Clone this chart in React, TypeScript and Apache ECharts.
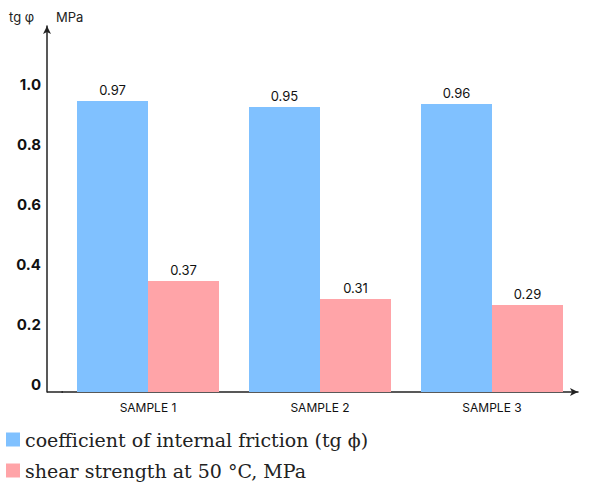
import React, { useEffect, useRef } from "react";
import * as echarts from "echarts";

const categories = ["SAMPLE 1", "SAMPLE 2", "SAMPLE 3"];
const frictionValues = [0.97, 0.95, 0.96];
const shearValues = [0.37, 0.31, 0.29];
const seriesNames = ["coefficient of internal friction (tg ϕ)", "shear strength at 50 °C, MPa"];

export default function App() {
  const ref = useRef<HTMLDivElement>(null);
  useEffect(() => {
    if (!ref.current) return;
    const chart = echarts.init(ref.current, null, { renderer: "svg" });
    const legendBase = {
      orient: "horizontal",
      left: 6,
      padding: 0,
      itemWidth: 14,
      itemHeight: 14,
      icon: "rect",
      textStyle: { fontFamily: "DejaVu Serif", fontSize: 19, color: "#222" },
    };
    chart.setOption({
      animation: false,
      grid: { left: 62, right: 15, top: 26, bottom: 92, containLabel: false },
      legend: [
        { ...legendBase, top: 430, data: [seriesNames[0]] },
        { ...legendBase, top: 461, data: [seriesNames[1]] },
      ],
      graphic: [
        { type: "line", shape: { x1: 47, y1: 392, x2: 63, y2: 392 }, style: { stroke: "#222", lineWidth: 1.5 } },
        { type: "text", x: 9, y: 10, style: { text: "tg φ", fontFamily: "Inter", fontSize: 13, fill: "#222" } },
        { type: "text", x: 56, y: 10, style: { text: "MPa", fontFamily: "Inter", fontSize: 13, fill: "#222" } },
      ],
      xAxis: {
        type: "category",
        data: categories,
        axisLine: { show: true, lineStyle: { color: "#222", width: 1.5 }, symbol: ["none", "arrow"], symbolSize: [6, 8] },
        axisTick: { show: false },
        axisLabel: { fontFamily: "Inter", fontSize: 12, color: "#111", margin: 9 },
      },
      yAxis: {
        type: "value",
        min: 0,
        max: 1.22,
        interval: 0.2,
        offset: 15,
        splitLine: { show: false },
        axisTick: { show: false },
        axisLine: { show: true, lineStyle: { color: "#222", width: 1.5 }, symbol: ["none", "arrow"], symbolSize: [6, 8] },
        axisLabel: {
          fontFamily: "Inter",
          fontWeight: "bold",
          fontSize: 15,
          color: "#111",
          margin: 6,
          verticalAlign: "bottom",
          formatter: (v: number) => (v > 1.05 ? "" : v === 0 ? "0" : v.toFixed(1)),
        },
      },
      series: [
        {
          name: seriesNames[0],
          type: "bar",
          data: frictionValues,
          barWidth: 71,
          barGap: "0%",
          itemStyle: { color: "#80C1FF" },
          label: { show: true, position: "top", distance: 5, fontFamily: "Inter", fontSize: 13, color: "#111" },
        },
        {
          name: seriesNames[1],
          type: "bar",
          data: shearValues,
          barWidth: 71,
          barGap: "0%",
          itemStyle: { color: "#FFA4A8" },
          label: { show: true, position: "top", distance: 5, fontFamily: "Inter", fontSize: 13, color: "#111" },
        },
      ],
    });
    return () => chart.dispose();
  }, []);
  return <div ref={ref} style={{ width: 593, height: 484, position: "absolute", left: 0, top: 0 }} />;
}
